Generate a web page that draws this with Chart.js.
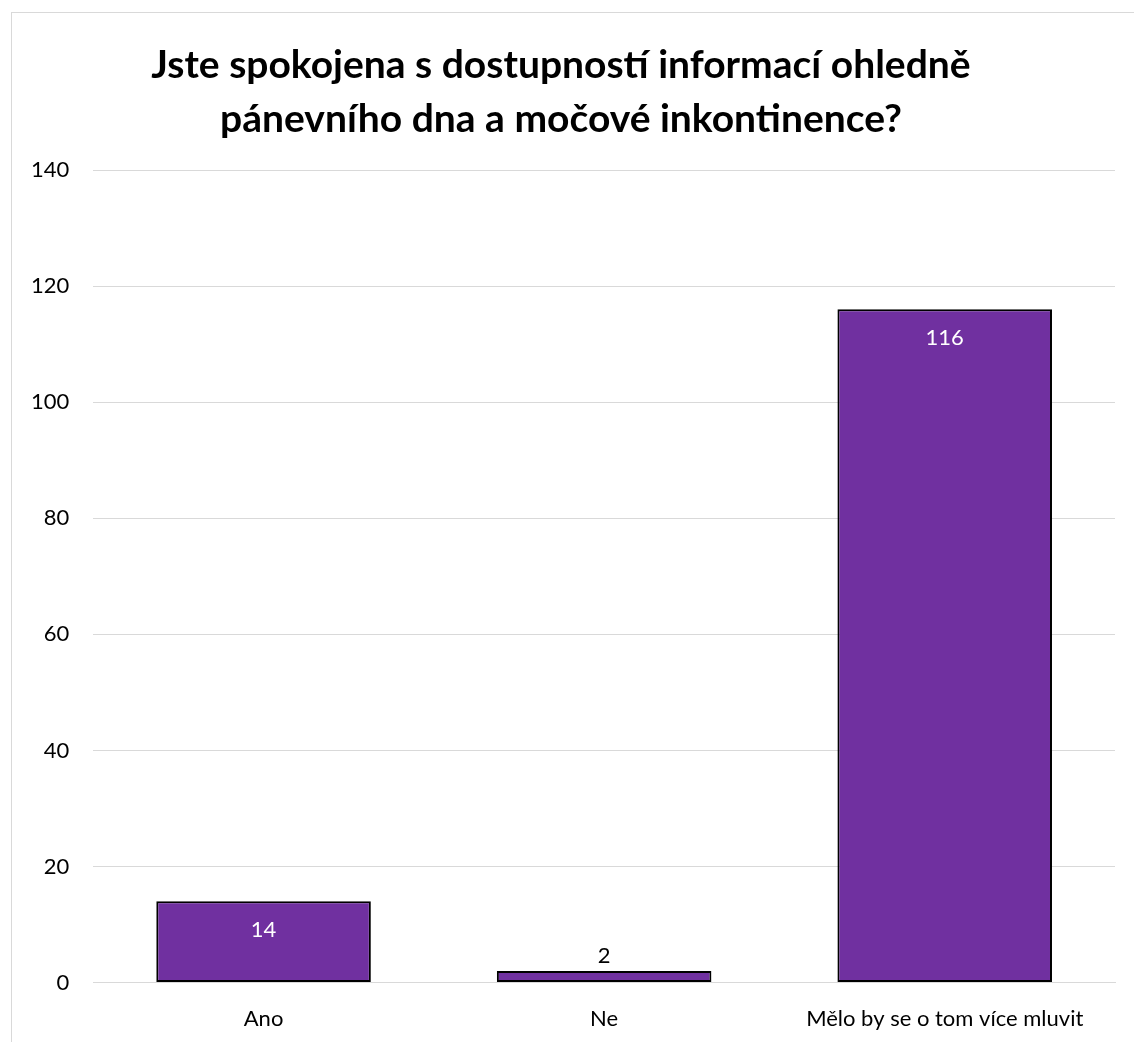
<!DOCTYPE html>
<html>
<head>
<meta charset="utf-8">
<script src="https://cdn.jsdelivr.net/npm/chart.js@4"></script>
<style>
  html, body { margin: 0; padding: 0; background: #fff; overflow: hidden; }
  #frame {
    position: absolute; left: 11px; top: 12px;
    width: 1140px; height: 1050px;
    border: 1px solid #d9d9d9;
  }
  #wrap { position: absolute; left: 0; top: 0; width: 1134px; height: 1067px; }
</style>
</head>
<body>
<div id="frame"></div>
<div id="wrap"><canvas id="myChart"></canvas></div>
<script>
const categories = ["Ano", "Ne", "Mělo by se o tom více mluvit"];
const counts = [14, 2, 116];
const titleLines = [
    "Jste spokojena s dostupností informací ohledně",
    "pánevního dna a močové inkontinence?"
];
// labels that fit inside the bar are white, the small one sits above in black
const insideLabel = [true, false, true];

const fontFamily = "Lato, 'Open Sans', sans-serif";

// simple value labels drawn from the bar elements
const valueLabels = {
    id: 'valueLabels',
    afterDatasetsDraw(chart) {
        const c = chart.ctx;
        const meta = chart.getDatasetMeta(0);
        c.save();
        c.font = "22px " + fontFamily;
        c.textAlign = 'center';
        c.textBaseline = 'middle';
        meta.data.forEach((bar, i) => {
            const txt = String(counts[i]);
            if (insideLabel[i]) {
                c.fillStyle = '#ffffff';
                c.fillText(txt, bar.x, bar.y + 29);
            } else {
                c.fillStyle = '#000000';
                c.fillText(txt, bar.x, bar.y - 15);
            }
        });
        c.restore();
    }
};

const ctx = document
    .getElementById('myChart')
    .getContext('2d');
const myChart = new Chart(ctx, {
    type: 'bar',
    data: {
        labels: categories,
        datasets: [
            {
                data: counts,
                backgroundColor: '#7030A0',
                borderColor: '#000000',
                borderWidth: 2,
                borderSkipped: false,
                categoryPercentage: 1,
                barPercentage: 0.63,
            },
        ],
    },
    plugins: [valueLabels],
    options: {
        responsive: true,
        maintainAspectRatio: false,
        animation: false,
        layout: {
            padding: { left: 7, right: 19, top: 38, bottom: 12 }
        },
        plugins: {
            legend: { display: false },
            tooltip: { enabled: false },
            title: {
                display: true,
                text: titleLines,
                color: '#000000',
                font: { family: fontFamily, size: 39, weight: 'bold', lineHeight: 1.385 },
                padding: { top: 0, bottom: 24 }
            }
        },
        scales: {
            x: {
                grid: { display: false, drawTicks: false },
                border: { color: '#d9d9d9', width: 1 },
                ticks: {
                    color: '#000000',
                    padding: 23,
                    font: { family: fontFamily, size: 22 }
                }
            },
            y: {
                min: 0,
                max: 140,
                grid: { color: '#d9d9d9', drawTicks: false },
                border: { display: false },
                ticks: {
                    stepSize: 20,
                    color: '#000000',
                    padding: 24,
                    font: { family: fontFamily, size: 22 }
                }
            },
        },
    },
});
</script>
</body>
</html>
